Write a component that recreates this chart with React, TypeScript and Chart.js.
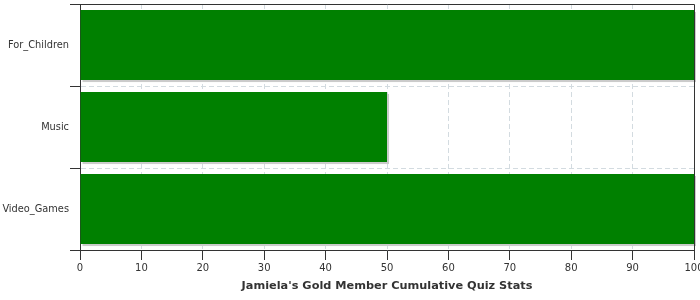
import React, { useEffect, useRef } from "react";
import { Chart, registerables } from "chart.js";

Chart.register(...registerables);

const categories = ["For_Children", "Music", "Video_Games"];
const values = [100, 50, 100];
const xMin = 0;
const xMax = 100;
const xStep = 10;
const chartTitle = "Jamiela's Gold Member Cumulative Quiz Stats";

const FONT = "'DejaVu Sans', sans-serif";
const AXIS = "#333333";
const GRID = "#d3dbe0";

const framePlugin = {
  id: "frameAndShadow",
  beforeDatasetsDraw(chart: any) {
    const ctx = chart.ctx;
    const meta = chart.getDatasetMeta(0);
    ctx.save();
    ctx.fillStyle = "#cbcbcb";
    meta.data.forEach((bar: any) => {
      const p = bar.getProps(["x", "y", "base", "height"], true);
      const l = Math.min(p.x, p.base);
      const r = Math.max(p.x, p.base);
      ctx.fillRect(l + 2, p.y - p.height / 2 + 2, r - l, p.height);
    });
    ctx.restore();
  },
  afterDatasetsDraw(chart: any) {
    const { ctx, chartArea } = chart;
    ctx.save();
    ctx.strokeStyle = AXIS;
    ctx.lineWidth = 1;
    ctx.beginPath();
    const t = Math.round(chartArea.top) + 0.5;
    const r = Math.round(chartArea.right) + 0.5;
    ctx.moveTo(chartArea.left, t);
    ctx.lineTo(r, t);
    ctx.lineTo(r, Math.round(chartArea.bottom) + 0.5);
    ctx.stroke();
    ctx.restore();
  },
};

export default function App() {
  const ref = useRef<HTMLCanvasElement | null>(null);

  useEffect(() => {
    if (!ref.current) return;
    const chart = new Chart(ref.current, {
      type: "bar",
      data: {
        labels: categories,
        datasets: [
          {
            data: values,
            backgroundColor: "#008000",
            borderWidth: 0,
            categoryPercentage: 1,
            barPercentage: 0.855,
          },
        ],
      },
      options: {
        indexAxis: "y",
        responsive: false,
        animation: false,
        devicePixelRatio: 1,
        layout: { padding: { top: 4, right: 6, left: 0, bottom: 0 } },
        plugins: {
          legend: { display: false },
          tooltip: { enabled: false },
          title: { display: false },
        },
        scales: {
          x: {
            type: "linear",
            min: xMin,
            max: xMax,
            ticks: {
              stepSize: xStep,
              color: AXIS,
              font: { family: FONT, size: 10 },
              padding: 2,
            },
            grid: {
              color: (c: any) =>
                c.index === 0 || c.index === (xMax - xMin) / xStep ? "rgba(0,0,0,0)" : GRID,
              tickColor: AXIS,
              tickLength: 10,
              drawTicks: true,
            },
            border: { color: AXIS, width: 1, dash: [5, 3] },
            title: {
              display: true,
              text: chartTitle,
              color: AXIS,
              font: { family: FONT, size: 11.3, weight: "bold" },
              padding: { top: 0, bottom: 7 },
            },
            afterFit: (s: any) => {
              s.height = 50;
              s.paddingLeft = 0;
              s.paddingRight = 0;
            },
          },
          y: {
            type: "category",
            offset: true,
            ticks: {
              color: AXIS,
              font: { family: FONT, size: 9.8 },
              padding: 1,
            },
            grid: {
              offset: true,
              color: (c: any) =>
                c.index === 0 || c.index === categories.length ? "rgba(0,0,0,0)" : GRID,
              tickColor: AXIS,
              tickLength: 10,
              drawTicks: true,
            },
            border: { color: AXIS, width: 1, dash: [5, 3] },
            afterFit: (s: any) => {
              s.width = 80;
              s.paddingTop = 0;
              s.paddingBottom = 0;
            },
          },
        },
      },
      plugins: [framePlugin],
    } as any);
    return () => chart.destroy();
  }, []);

  return (
    <div style={{ position: "fixed", left: 0, top: 0, width: 700, height: 300, background: "#fff" }}>
      <canvas ref={ref} width={700} height={300} style={{ display: "block" }} />
    </div>
  );
}
